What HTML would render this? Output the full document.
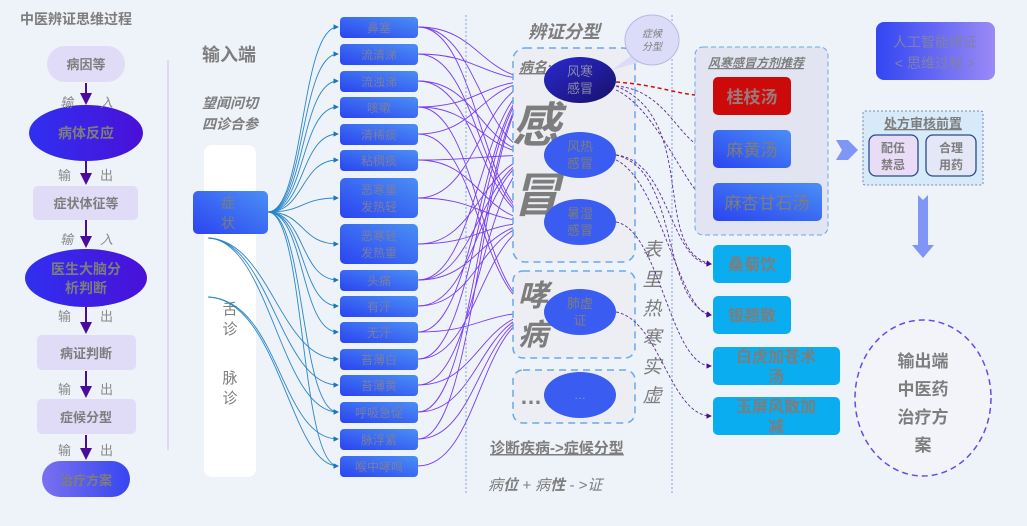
<!DOCTYPE html>
<html><head><meta charset="utf-8">
<style>
html,body{margin:0;padding:0;background:#eef2f9;}
svg{display:block;font-family:"Liberation Sans","Noto Sans CJK SC",sans-serif;}
.g{fill:#7d7d7d;}
</style></head>
<body>
<svg width="1027" height="526" viewBox="0 0 1027 526" xmlns="http://www.w3.org/2000/svg">
<defs>
<linearGradient id="bl" x1="0" y1="1" x2="1" y2="0"><stop offset="0" stop-color="#2b44f0"/><stop offset="1" stop-color="#4a8ff5"/></linearGradient>
<linearGradient id="el" x1="0" y1="0" x2="1" y2="0"><stop offset="0" stop-color="#3030f0"/><stop offset="1" stop-color="#4a10d8"/></linearGradient>
<linearGradient id="dk" x1="0" y1="0" x2="1" y2="1"><stop offset="0" stop-color="#2a2ad0"/><stop offset="1" stop-color="#18106a"/></linearGradient>
<linearGradient id="ai" x1="0" y1="0" x2="1" y2="0"><stop offset="0" stop-color="#3246f2"/><stop offset="1" stop-color="#9a8af5"/></linearGradient>
<linearGradient id="tr" x1="0" y1="0" x2="1" y2="0"><stop offset="0" stop-color="#7a70f0"/><stop offset="1" stop-color="#3646f0"/></linearGradient>
<marker id="ap" markerWidth="6" markerHeight="6" refX="5" refY="3" orient="auto"><path d="M0,0 L6,3 L0,6z" fill="#4a0c9a"/></marker>
<marker id="ab" markerWidth="6" markerHeight="6" refX="5" refY="3" orient="auto"><path d="M0,0 L6,3 L0,6z" fill="#1a78b8"/></marker>
<marker id="av" markerWidth="6" markerHeight="6" refX="5" refY="3" orient="auto"><path d="M0,0 L6,3 L0,6z" fill="#6a2cf0"/></marker>
<marker id="ar" markerWidth="6" markerHeight="6" refX="5" refY="3" orient="auto"><path d="M0,0 L6,3 L0,6z" fill="#d01010"/></marker>
</defs>

<text x="20" y="24" font-size="14" font-weight="bold" class="g">中医辨证思维过程</text>
<rect x="47" y="46" width="78" height="36" rx="18" fill="#e0dbf6"/>
<text x="86" y="69" font-size="13" font-weight="bold" class="g" text-anchor="middle">病因等</text>
<ellipse cx="86" cy="133" rx="57" ry="28" fill="url(#el)"/>
<text x="86" y="138" font-size="14" font-weight="bold" class="g" text-anchor="middle">病体反应</text>
<rect x="33" y="186" width="105" height="34" rx="5" fill="#e0dbf6"/>
<text x="86" y="208" font-size="13" font-weight="bold" class="g" text-anchor="middle">症状体征等</text>
<ellipse cx="86" cy="278" rx="61" ry="29" fill="url(#el)"/>
<text x="86" y="274" font-size="14" font-weight="bold" class="g" text-anchor="middle">医生大脑分</text>
<text x="86" y="293" font-size="14" font-weight="bold" class="g" text-anchor="middle">析判断</text>
<rect x="37" y="335" width="99" height="35" rx="5" fill="#e0dbf6"/>
<text x="86" y="358" font-size="13" font-weight="bold" class="g" text-anchor="middle">病证判断</text>
<rect x="37" y="399" width="99" height="35" rx="5" fill="#e0dbf6"/>
<text x="86" y="422" font-size="13" font-weight="bold" class="g" text-anchor="middle">症候分型</text>
<rect x="42" y="461" width="88" height="36" rx="18" fill="url(#tr)"/>
<text x="86" y="485" font-size="13" font-weight="bold" class="g" text-anchor="middle">治疗方案</text>
<g stroke="#4a0c9a" stroke-width="2" marker-end="url(#ap)">
<line x1="86" y1="83" x2="86" y2="103"/><line x1="86" y1="161" x2="86" y2="183"/>
<line x1="86" y1="220" x2="86" y2="246"/><line x1="86" y1="307" x2="86" y2="332"/>
<line x1="86" y1="371" x2="86" y2="396"/><line x1="86" y1="435" x2="86" y2="458"/>
</g>
<g font-size="13" fill="#8a8a8a">
<text x="60" y="107" font-style="italic">输</text><text x="100" y="107" font-style="italic">入</text>
<text x="58" y="180">输</text><text x="100" y="180">出</text>
<text x="60" y="244" font-style="italic">输</text><text x="100" y="244" font-style="italic">入</text>
<text x="58" y="321">输</text><text x="100" y="321">出</text>
<text x="58" y="394">输</text><text x="100" y="394">出</text>
<text x="58" y="455">输</text><text x="100" y="455">出</text>
</g>
<line x1="168" y1="60" x2="168" y2="450" stroke="#d8d0f2" stroke-width="1.5"/>

<text x="202" y="61" font-size="18" font-weight="bold" class="g">输入端</text>
<text x="202" y="108" font-size="14" font-weight="bold" font-style="italic" class="g">望闻问切</text>
<text x="202" y="129" font-size="14" font-weight="bold" font-style="italic" class="g">四诊合参</text>
<rect x="204" y="145" width="52" height="332" rx="8" fill="#ffffff"/>
<rect x="193" y="191" width="75" height="43" rx="5" fill="url(#bl)"/>
<text x="228" y="208" font-size="14" class="g" text-anchor="middle">症</text>
<text x="228" y="228" font-size="14" class="g" text-anchor="middle">状</text>
<text x="230" y="314" font-size="15" class="g" text-anchor="middle">舌</text>
<text x="230" y="334" font-size="15" class="g" text-anchor="middle">诊</text>
<text x="230" y="383" font-size="15" class="g" text-anchor="middle">脉</text>
<text x="230" y="403" font-size="15" class="g" text-anchor="middle">诊</text>

<g fill="none" stroke="#2a86c8" stroke-width="0.9" marker-end="url(#ab)">
<path d="M268 212 C305 212 300 27 338 27"/><path d="M268 212 C305 212 300 54 338 54"/>
<path d="M268 212 C305 212 300 81 338 81"/><path d="M268 212 C305 212 300 107 338 107"/>
<path d="M268 212 C305 212 300 134 338 134"/><path d="M268 212 C305 212 300 160 338 160"/>
<path d="M268 212 C305 212 300 198 338 198"/><path d="M268 212 C305 212 300 244 338 244"/>
<path d="M268 212 C305 212 300 280 338 280"/><path d="M268 212 C305 212 300 306 338 306"/>
<path d="M268 212 C305 212 300 332 338 332"/><path d="M268 212 C305 212 300 412 338 412"/>
<path d="M268 212 C305 212 300 466 338 466"/>
<path d="M208 238 C270 240 280 359 338 359"/><path d="M208 238 C270 240 280 385 338 385"/>
<path d="M208 238 C270 240 280 412 338 412"/>
<path d="M208 297 C280 300 280 439 338 439"/><path d="M208 297 C280 300 290 466 338 466"/>
</g>

<g fill="url(#bl)">
<rect x="340" y="17" width="78" height="21" rx="4"/><rect x="340" y="44" width="78" height="21" rx="4"/>
<rect x="340" y="71" width="78" height="21" rx="4"/><rect x="340" y="97" width="78" height="21" rx="4"/>
<rect x="340" y="124" width="78" height="21" rx="4"/><rect x="340" y="150" width="78" height="21" rx="4"/>
<rect x="340" y="178" width="78" height="40" rx="5"/><rect x="340" y="224" width="78" height="40" rx="5"/>
<rect x="340" y="270" width="78" height="21" rx="4"/><rect x="340" y="296" width="78" height="21" rx="4"/>
<rect x="340" y="322" width="78" height="21" rx="4"/><rect x="340" y="349" width="78" height="21" rx="4"/>
<rect x="340" y="375" width="78" height="21" rx="4"/><rect x="340" y="402" width="78" height="21" rx="4"/>
<rect x="340" y="429" width="78" height="21" rx="4"/><rect x="340" y="456" width="78" height="21" rx="4"/>
</g>
<g font-size="12" fill="#7a7ea0" text-anchor="middle">
<text x="379" y="32">鼻塞</text><text x="379" y="59">流清涕</text><text x="379" y="86">流浊涕</text>
<text x="379" y="112">咳嗽</text><text x="379" y="139">清稀痰</text><text x="379" y="165">粘稠痰</text>
<text x="379" y="194">恶寒重</text><text x="379" y="211">发热轻</text>
<text x="379" y="240">恶寒轻</text><text x="379" y="257">发热重</text>
<text x="379" y="285">头痛</text><text x="379" y="311">有汗</text><text x="379" y="337">无汗</text>
<text x="379" y="364">苔薄白</text><text x="379" y="390">苔薄黄</text><text x="379" y="417">呼吸急促</text>
<text x="379" y="444">脉浮紧</text><text x="379" y="471">喉中哮鸣</text>
</g>

<g fill="none" stroke="#7a3cf0" stroke-width="0.9" marker-end="url(#av)">
<path d="M418 27 C480 27 480 80 544 80"/><path d="M418 27 C480 27 480 155 544 155"/><path d="M418 27 C480 27 480 222 544 222"/>
<path d="M418 54 C480 54 480 80 544 80"/><path d="M418 54 C480 54 480 222 544 222"/>
<path d="M418 81 C480 81 480 155 544 155"/><path d="M418 81 C480 81 480 222 544 222"/>
<path d="M418 107 C480 107 480 80 544 80"/><path d="M418 107 C480 107 480 155 544 155"/><path d="M418 107 C480 107 480 312 544 312"/>
<path d="M418 134 C480 134 480 80 544 80"/><path d="M418 134 C480 134 480 312 544 312"/>
<path d="M418 160 C480 160 480 155 544 155"/><path d="M418 160 C480 160 480 222 544 222"/>
<path d="M418 198 C480 198 480 80 544 80"/><path d="M418 198 C480 198 480 222 544 222"/>
<path d="M418 244 C480 244 480 155 544 155"/><path d="M418 244 C480 244 480 222 544 222"/>
<path d="M418 280 C480 280 480 80 544 80"/><path d="M418 280 C480 280 480 155 544 155"/><path d="M418 280 C480 280 480 222 544 222"/>
<path d="M418 306 C480 306 480 155 544 155"/><path d="M418 306 C480 306 480 222 544 222"/>
<path d="M418 332 C480 332 480 80 544 80"/><path d="M418 332 C480 332 480 312 544 312"/>
<path d="M418 359 C480 359 480 80 544 80"/><path d="M418 359 C480 359 480 222 544 222"/>
<path d="M418 385 C480 385 480 155 544 155"/><path d="M418 385 C480 385 480 312 544 312"/>
<path d="M418 412 C480 412 480 312 544 312"/><path d="M418 412 C480 412 480 80 544 80"/>
<path d="M418 439 C480 439 480 80 544 80"/><path d="M418 439 C480 439 480 312 544 312"/>
<path d="M418 466 C480 466 480 312 544 312"/>
</g>

<line x1="466" y1="15" x2="466" y2="495" stroke="#8aa0e0" stroke-width="1" stroke-dasharray="2,2"/>
<line x1="672" y1="15" x2="672" y2="495" stroke="#8aa0e0" stroke-width="1" stroke-dasharray="2,2"/>

<text x="528" y="38" font-size="18" font-weight="bold" font-style="italic" class="g">辨证分型</text>
<rect x="513" y="48" width="122" height="214" rx="12" fill="#eceef3" stroke="#6aa8e8" stroke-width="1.5" stroke-dasharray="7,5"/>
<text x="519" y="72" font-size="14" font-weight="bold" font-style="italic" class="g" text-decoration="underline">病名:</text>
<text x="512" y="142" font-size="48" font-weight="bold" font-style="italic" class="g">感</text>
<text x="512" y="212" font-size="48" font-weight="bold" font-style="italic" class="g">冒</text>
<rect x="513" y="271" width="122" height="87" rx="10" fill="#eceef3" stroke="#6aa8e8" stroke-width="1.5" stroke-dasharray="7,5"/>
<text x="518" y="306" font-size="30" font-weight="bold" font-style="italic" class="g">哮</text>
<text x="518" y="345" font-size="30" font-weight="bold" font-style="italic" class="g">病</text>
<rect x="513" y="370" width="122" height="53" rx="10" fill="#eceef3" stroke="#6aa8e8" stroke-width="1.5" stroke-dasharray="7,5"/>
<text x="520" y="404" font-size="22" font-weight="bold" class="g">…</text>
<path d="M612 70 L632 55 L640 62z" fill="#dcdcf8"/>
<ellipse cx="652" cy="40" rx="27" ry="25" fill="#dcdcf8" stroke="#b8b8e8"/>
<text x="652" y="37" font-size="10" font-style="italic" class="g" text-anchor="middle">症候</text>
<text x="652" y="50" font-size="10" font-style="italic" class="g" text-anchor="middle">分型</text>
<ellipse cx="580" cy="80" rx="36" ry="23" fill="url(#dk)"/>
<text x="580" y="76" font-size="13" fill="#8a8aa8" text-anchor="middle">风寒</text>
<text x="580" y="93" font-size="13" fill="#8a8aa8" text-anchor="middle">感冒</text>
<ellipse cx="580" cy="155" rx="36" ry="23" fill="#3a5cf0"/>
<text x="580" y="151" font-size="13" class="g" text-anchor="middle">风热</text>
<text x="580" y="168" font-size="13" class="g" text-anchor="middle">感冒</text>
<ellipse cx="580" cy="222" rx="36" ry="23" fill="#3a5cf0"/>
<text x="580" y="218" font-size="13" class="g" text-anchor="middle">暑湿</text>
<text x="580" y="235" font-size="13" class="g" text-anchor="middle">感冒</text>
<ellipse cx="580" cy="312" rx="36" ry="23" fill="#3a5cf0"/>
<text x="580" y="308" font-size="13" class="g" text-anchor="middle">肺虚</text>
<text x="580" y="325" font-size="13" class="g" text-anchor="middle">证</text>
<ellipse cx="580" cy="395" rx="36" ry="23" fill="#3a5cf0"/>
<text x="580" y="399" font-size="12" fill="#8a9ad8" text-anchor="middle">…</text>
<g font-size="19" font-style="italic" class="g" text-anchor="middle">
<text x="652" y="256">表</text><text x="652" y="286">里</text><text x="652" y="315">热</text>
<text x="652" y="344">寒</text><text x="652" y="373">实</text><text x="652" y="402">虚</text>
</g>
<text x="490" y="453" font-size="15" font-weight="bold" class="g" text-decoration="underline">诊断疾病-&gt;症候分型</text>
<text x="488" y="490" font-size="15" font-style="italic" class="g">病<tspan font-weight="bold">位</tspan> + 病<tspan font-weight="bold">性</tspan> - &gt;证</text>

<path d="M616 82 C660 85 680 96 711 96" fill="none" stroke="#d01010" stroke-width="1.5" stroke-dasharray="4,3" marker-end="url(#ar)"/>
<g fill="none" stroke="#5a2c9a" stroke-width="0.9" stroke-dasharray="3,2" marker-end="url(#ap)">
<path d="M616 86 C670 90 680 149 711 149"/><path d="M616 90 C660 110 690 202 711 202"/>
<path d="M616 155 C670 160 670 264 711 264"/><path d="M616 160 C660 180 680 315 711 315"/>
<path d="M616 222 C660 230 670 366 711 366"/><path d="M616 312 C660 320 670 416 711 416"/>
<path d="M616 86 C700 120 650 250 711 264"/><path d="M616 155 C680 170 660 300 711 315"/>
</g>

<rect x="695" y="47" width="133" height="188" rx="8" fill="#e2e4f2" stroke="#6aa8e8" stroke-width="1" stroke-dasharray="5,3"/>
<text x="708" y="67" font-size="12" font-weight="bold" font-style="italic" class="g" text-decoration="underline">风寒感冒方剂推荐</text>
<rect x="713" y="77" width="78" height="38" rx="5" fill="#cc0a0a"/>
<text x="752" y="103" font-size="17" font-weight="bold" fill="#9a7a7a" text-anchor="middle">桂枝汤</text>
<rect x="713" y="130" width="78" height="38" rx="5" fill="url(#bl)"/>
<text x="752" y="156" font-size="17" class="g" text-anchor="middle">麻黄汤</text>
<rect x="713" y="183" width="109" height="38" rx="5" fill="url(#bl)"/>
<text x="767" y="209" font-size="17" class="g" text-anchor="middle">麻杏甘石汤</text>
<g fill="#0aaef0">
<rect x="713" y="245" width="78" height="38" rx="5"/><rect x="713" y="296" width="78" height="38" rx="5"/>
<rect x="713" y="347" width="127" height="38" rx="5"/><rect x="713" y="397" width="127" height="38" rx="5"/>
</g>
<g font-size="16" font-weight="bold" class="g" text-anchor="middle">
<text x="752" y="270">桑菊饮</text><text x="752" y="321">银翘散</text>
<text x="776" y="362">白虎加苍术</text><text x="776" y="382">汤</text>
<text x="776" y="412">玉屏风散加</text><text x="776" y="432">减</text>
</g>

<rect x="876" y="22" width="119" height="58" rx="8" fill="url(#ai)"/>
<text x="935" y="47" font-size="14" fill="#8080a8" text-anchor="middle">人工智能辨证</text>
<text x="935" y="68" font-size="14" fill="#8080a8" text-anchor="middle">&lt; 思维过程 &gt;</text>
<path d="M836 140 L848 140 L858 150 L848 160 L836 160 L842 150z" fill="#7f96f6"/>
<rect x="863" y="111" width="120" height="74" rx="2" fill="#d7eafa" stroke="#5a6aa0" stroke-width="0.8" stroke-dasharray="2,2"/>
<text x="923" y="128" font-size="13" font-weight="bold" class="g" text-anchor="middle" text-decoration="underline">处方审核前置</text>
<rect x="869" y="135" width="49" height="41" rx="7" fill="#e8dcf6" stroke="#2a4a8a" stroke-width="1.3"/>
<text x="893" y="152" font-size="12" font-weight="bold" class="g" text-anchor="middle">配伍</text>
<text x="893" y="169" font-size="12" font-weight="bold" class="g" text-anchor="middle">禁忌</text>
<rect x="926" y="135" width="50" height="41" rx="7" fill="#e4e8f6" stroke="#2a4a8a" stroke-width="1.3"/>
<text x="951" y="152" font-size="12" font-weight="bold" class="g" text-anchor="middle">合理</text>
<text x="951" y="169" font-size="12" font-weight="bold" class="g" text-anchor="middle">用药</text>
<path d="M918 195 L923 200 L928 195 L928 245 L934 245 L923 258 L912 245 L918 245z" fill="#7f96f6"/>
<ellipse cx="923" cy="398" rx="68" ry="78" fill="#f3f4fa" stroke="#6a4ae8" stroke-width="1.5" stroke-dasharray="6,4"/>
<g font-size="17" font-weight="bold" class="g" text-anchor="middle">
<text x="923" y="367">输出端</text><text x="923" y="395">中医药</text>
<text x="923" y="423">治疗方</text><text x="923" y="451">案</text>
</g>
</svg>
</body></html>
